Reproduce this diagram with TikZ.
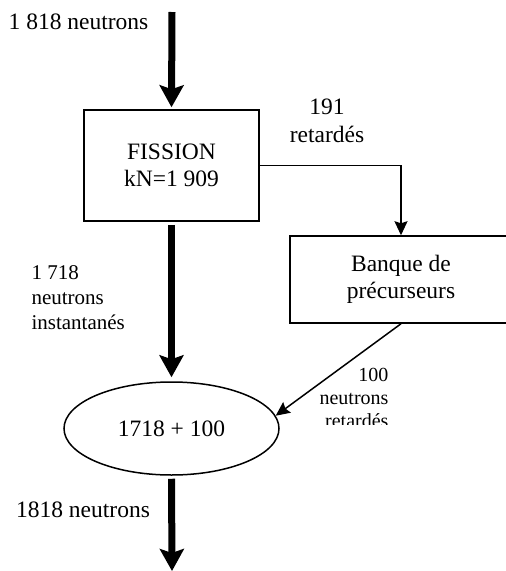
\documentclass[tikz,border=0pt]{standalone}
\usepackage{fontspec}
\setmainfont{Liberation Serif}
\usepackage{tikz}
\usetikzlibrary{arrows.meta,shapes.geometric,positioning}

\tikzset{
  procbox/.style={draw,line width=1.5pt,align=center,font=\fontsize{23.5}{27}\selectfont},
  flux/.style={line width=7pt,-{Stealth[length=22pt,width=24pt,inset=4pt]}},
  fine/.style={line width=1.5pt,-{Stealth[length=14pt,width=13pt,inset=2pt]}},
  bigtxt/.style={font=\fontsize{23.5}{28}\selectfont,align=center},
  smalltxt/.style={font=\fontsize{21}{25}\selectfont,align=left},
  tinytxt/.style={font=\fontsize{20}{23}\selectfont,align=right}
}

\begin{document}
\begin{tikzpicture}[x=1pt,y=1pt,yscale=-1]
\useasboundingbox (0,0) rectangle (506,571);

%Flowchart: Process
\node [procbox,minimum width=175,minimum height=111] (fission) at (171.5,165.5) {FISSION\\kN=1 909};
%Flowchart: Process
\node [procbox,minimum width=222,minimum height=87] (banque) at (401,279.5) {Banque de\\précurseurs};
%Flowchart: Terminator
\node [draw,ellipse,line width=1.5pt,minimum width=215,minimum height=93,font=\fontsize{23.5}{27}\selectfont] (somme) at (171.5,428.5) {1718 + 100};

\coordinate (entree) at (172,12);
\coordinate (sortie) at (172,571);

% thick arrows
\draw [flux,shorten >=2pt] (entree) -- (fission.north);
\draw [flux,shorten <=3pt,shorten >=4pt] (fission.south) -- (somme.north);
\draw [flux,shorten <=3pt] (somme.south) -- (sortie);
% thin arrows
\draw [fine] (fission.east) -| (banque.north);
\draw [fine] (banque.south) -- (somme.7);

% Text Node
\node [bigtxt] (lbl-in) at (78.5,22) {1 818 neutrons};
\node [bigtxt] (lbl-ret) at (327,121) {191\\retardés};
\node [smalltxt,anchor=west] (lbl-inst) at (28,298) {1 718\\neutrons\\instantanés};
\begin{scope}
\clip (300,340) rectangle (420,424);
\node [tinytxt,anchor=east] (lbl-cent) at (392,398) {100\\neutrons\\retardés};
\end{scope}
\node [bigtxt] (lbl-out) at (83,510) {1818 neutrons};
\end{tikzpicture}
\end{document}
